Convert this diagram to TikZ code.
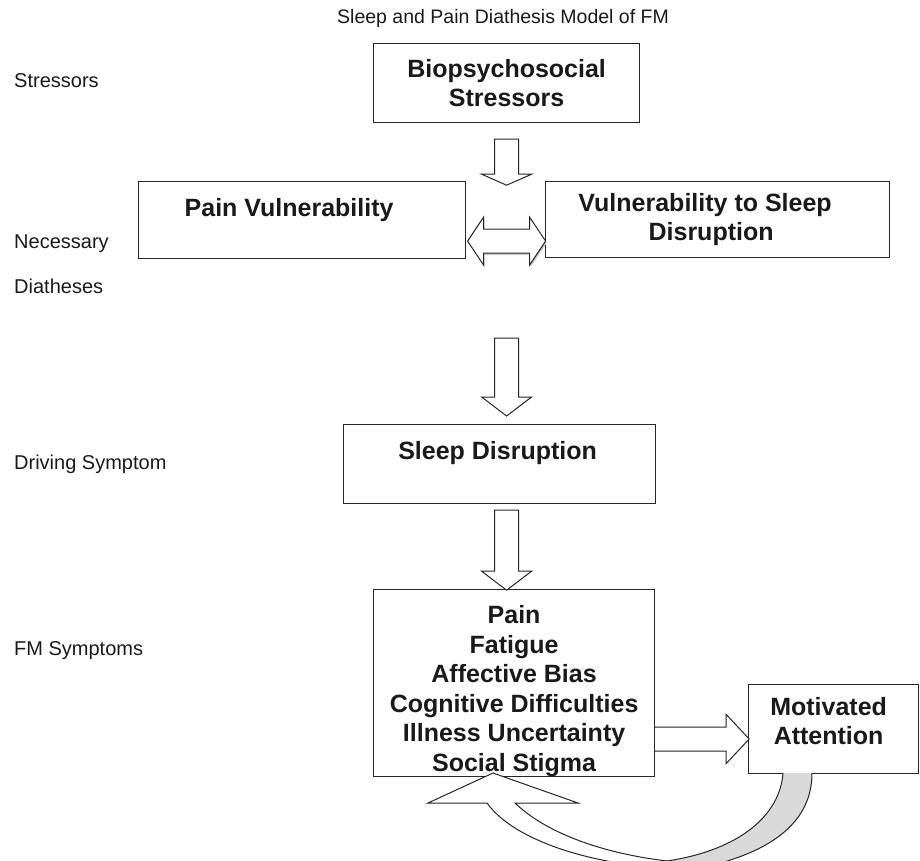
\documentclass[tikz,border=0pt]{standalone}
\usepackage{fontspec}
\setmainfont{Liberation Sans}
\usetikzlibrary{calc}

\newcommand{\boxfont}{\fontsize{25}{29.5}\selectfont\bfseries}
\newcommand{\sidefont}{\fontsize{20}{24}\selectfont}

\tikzset{
  box/.style={draw=black!85, line width=1.2pt, rectangle, inner sep=0pt, anchor=north west, align=center, font=\boxfont, text=black!90},
  side/.style={anchor=base west, inner sep=0pt, font=\sidefont, text=black!90},
  blockarrow/.style={draw=black!85, line width=1pt, fill=white, line join=miter},
  pics/downblock/.style n args={3}{code={
    \draw[blockarrow] (-12,#1) -- (12,#1) -- (12,#2) -- (25,#2) -- (0,#3) -- (-25,#2) -- (-12,#2) -- cycle;}}
}

\begin{document}
\begin{tikzpicture}[x=1pt, y=-1pt]
  \useasboundingbox (0,0) rectangle (920,861);
  \clip (0,0) rectangle (920,861);

  \node[side, font=\fontsize{19.5}{23}\selectfont] (title) at (337,24) {Sleep and Pain Diathesis Model of FM};

  % levels on the left
  \node[side] (lstress) at (14,88) {Stressors};
  \node[side] (lnec) at (14,248) {Necessary};
  \node[side] (ldia) at (14,293) {Diatheses};
  \node[side] (ldrive) at (14,469) {Driving Symptom};
  \node[side] (lfm) at (14,655) {FM Symptoms};

  % boxes
  \node[box, minimum width=266pt, minimum height=79pt] (bio) at (373,43) {Biopsychosocial\\Stressors};
  \node[box, minimum width=327pt, minimum height=77pt, text depth=25pt] (pain) at (138,181) {Pain Vulnerability\hspace*{26pt}};
  \node[box, minimum width=344pt, minimum height=76pt] (vsleep) at (545,181) {Vulnerability to Sleep\hspace*{25pt}\\Disruption\hspace*{13pt}};
  \node[box, minimum width=312pt, minimum height=79pt, text depth=27pt] (sd) at (343,424) {Sleep Disruption\hspace*{4pt}};
  \node[box, minimum width=281pt, minimum height=180pt] (fm) at (373,589) {\rule{0pt}{34pt}Pain\\Fatigue\\Affective Bias\\Cognitive Difficulties\\Illness Uncertainty\\Social Stigma};
  \node[box, minimum width=170pt, minimum height=89pt, text depth=16pt] (mot) at (748,684) {Motivated\hspace*{10pt}\\Attention\hspace*{10pt}};

  % block arrows
  \pic at (bio.south) {downblock={16}{51}{62}};
  \pic at (bio.south |- sd.north) {downblock={-86}{-27}{-8}};
  \pic at (bio.south |- sd.south) {downblock={6}{67}{86}};

  \coordinate (dbl) at ($(bio.south |- pain.east)+(0,21)$);
  \fill[black!20, shift={($(dbl)+(1,2)$)}] (-39,0) -- (-23,-24) -- (-23,-12) -- (23,-12) -- (23,-24) -- (39,0) -- (23,24) -- (23,12) -- (-23,12) -- (-23,24) -- cycle;
  \draw[blockarrow, shift={(dbl)}] (-39,0) -- (-23,-24) -- (-23,-12) -- (23,-12) -- (23,-24) -- (39,0) -- (23,24) -- (23,12) -- (-23,12) -- (-23,24) -- cycle;

  \draw[blockarrow, shift={($(fm.east)+(0,56)$)}] (0,-12) -- (71,-12) -- (71,-24.5) -- (94,0) -- (71,24.5) -- (71,12) -- (0,12);

  % feedback loop
  \filldraw[fill=black!15, draw=black!85, line width=1pt] (783,773) .. controls (780,815) and (740,850) .. (667,861) -- (700,868) .. controls (775,852) and (812,820) .. (812,773);
  \filldraw[fill=white, draw=black!85, line width=1pt, line join=miter] (640,866) .. controls (570,858) and (510,835) .. (487,803) -- (428,803) -- (493,773) -- (578,803) -- (515,803) .. controls (545,832) and (600,853) .. (667,861) -- (680,870) -- cycle;
\end{tikzpicture}
\end{document}
